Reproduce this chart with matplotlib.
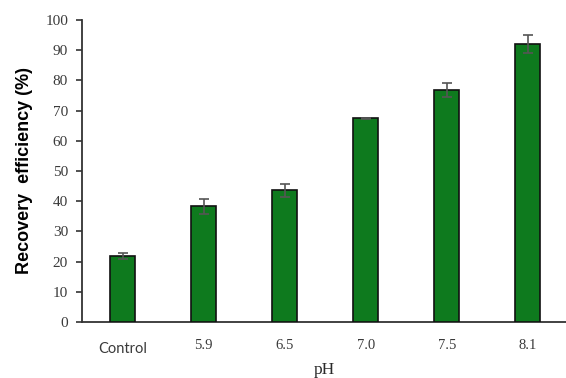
import matplotlib
matplotlib.use("Agg")
import matplotlib.pyplot as plt

# data
labels = ['Control', '5.9', '6.5', '7.0', '7.5', '8.1']
recovery = [21.9, 38.3, 43.6, 67.5, 76.8, 92.1]
errors = [1.0, 2.5, 2.1, 0.2, 2.3, 2.9]

fig = plt.figure(figsize=(5.66, 3.78), dpi=100)
ax = fig.add_axes([82/566, (378-322)/378, (566-82)/566, (322-20)/378])

x = list(range(len(labels)))
ax.bar(x, recovery, width=0.31, color='#0e7a1e', edgecolor='#111111', linewidth=1.2,
       yerr=errors, error_kw=dict(ecolor='#555555', elinewidth=1.2, capsize=3.5, capthick=1.2),
       zorder=3)

ax.set_xlim(-0.5, 5.47)
ax.set_ylim(0, 100)
ax.set_yticks(range(0, 101, 10))
ax.set_xticks(x)
ax.set_xticklabels(labels)

for s in ['top', 'right']:
    ax.spines[s].set_visible(False)
for s in ['left', 'bottom']:
    ax.spines[s].set_color('#333333')
    ax.spines[s].set_linewidth(1.3)

ax.tick_params(axis='y', direction='out', length=4, width=1.2, color='#333333',
               labelcolor='#3a3a3a', pad=6)
ax.tick_params(axis='x', length=0, pad=12, labelcolor='#3a3a3a')
for t in ax.get_yticklabels():
    t.set_fontfamily('Liberation Serif')
    t.set_fontsize(11)
for i, t in enumerate(ax.get_xticklabels()):
    if i == 0:
        t.set_fontfamily('Lato')
        t.set_fontsize(10.5)
        t.set_y(-0.012)
    else:
        t.set_fontfamily('Liberation Serif')
        t.set_fontsize(10.5)

ax.set_ylabel('Recovery  efficiency (%)', fontfamily='Liberation Sans', fontweight='bold',
              fontsize=13, labelpad=9)
ax.set_xlabel('pH', fontfamily='Liberation Serif', fontsize=12.5, labelpad=4, color='#2a2a2a')

fig.savefig('out.png', dpi=100)
